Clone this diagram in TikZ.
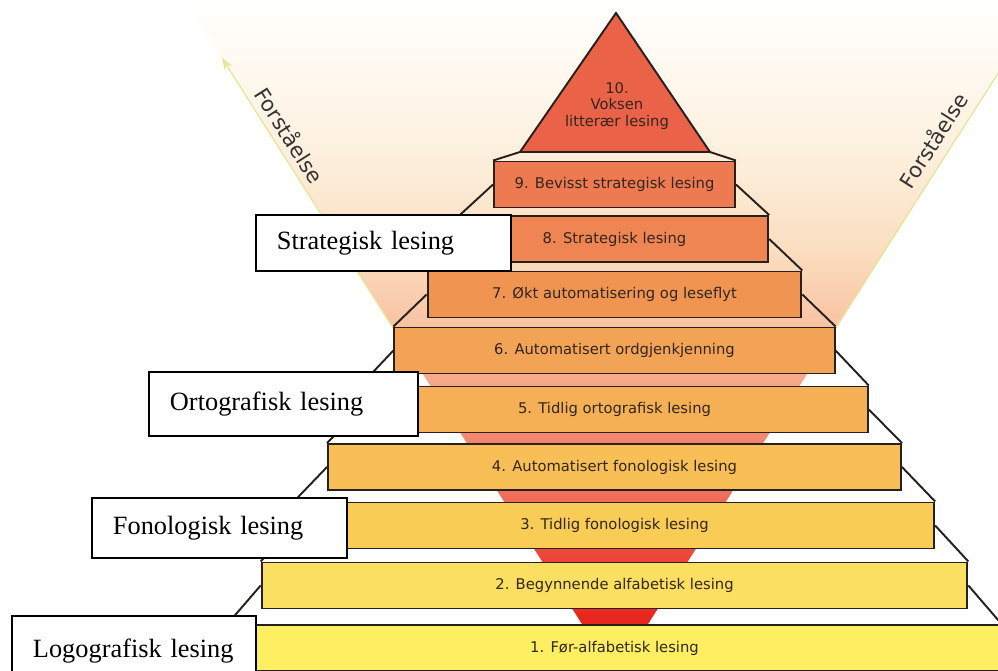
\documentclass[tikz,border=0pt]{standalone}
\usepackage{fontspec}
\usetikzlibrary{arrows.meta}
\newfontfamily\barfont{DejaVu Sans}
\newfontfamily\boxfont{Liberation Serif}
\definecolor{bar1}{RGB}{253,238,98}
\definecolor{bar2}{RGB}{251,223,96}
\definecolor{bar3}{RGB}{249,204,85}
\definecolor{bar4}{RGB}{247,191,85}
\definecolor{bar5}{RGB}{245,176,85}
\definecolor{bar6}{RGB}{242,163,85}
\definecolor{bar7}{RGB}{240,148,82}
\definecolor{bar8}{RGB}{238,133,82}
\definecolor{bar9}{RGB}{237,122,80}
\definecolor{toptri}{RGB}{234,98,72}
\definecolor{barline}{RGB}{40,32,28}
\definecolor{bartext}{RGB}{50,38,30}
\definecolor{coneline}{RGB}{228,230,150}
\definecolor{cone0}{RGB}{228,30,20}
\definecolor{cone1}{RGB}{232,40,30}
\definecolor{cone2}{RGB}{238,70,58}
\definecolor{cone3}{RGB}{241,110,90}
\definecolor{cone4}{RGB}{244,135,112}
\definecolor{cone5}{RGB}{246,168,138}
\definecolor{cone6}{RGB}{248,196,164}
\definecolor{cone7}{RGB}{251,222,192}
\definecolor{cone8}{RGB}{253,240,222}
\definecolor{cone9}{RGB}{255,251,244}
\pgfdeclareverticalshading{cone}{100bp}{color(0bp)=(cone0); color(25bp)=(cone0);
  color(29.5bp)=(cone1); color(34bp)=(cone2); color(38.3bp)=(cone3);
  color(42.6bp)=(cone4); color(46.9bp)=(cone5); color(51.2bp)=(cone6);
  color(56.5bp)=(cone7); color(63.9bp)=(cone8); color(71.3bp)=(cone9);
  color(75bp)=(white); color(100bp)=(white)}

\begin{document}
\begin{tikzpicture}[x=0.02cm, y=-0.02cm,
    stepbar/.style={draw=barline, line width=1.1pt, minimum height=0.92cm, inner sep=0pt,
      font=\barfont\fontsize{8.4}{10}\selectfont, text=bartext},
    stair/.style={draw=barline, line width=1.1pt},
    lbl/.style={draw, line width=1.1pt, fill=white, anchor=north west, align=left,
      inner xsep=0.42cm, font=\boxfont\fontsize{15}{18}\selectfont},
    coneedge/.style={draw=coneline, line width=0.7pt},
    side/.style={font=\barfont\fontsize{12}{14}\selectfont, text=black!80}]
    \useasboundingbox (0,0) rectangle (998,671);
    \clip (0,0) rectangle (998,671);

    \coordinate (vl) at (185,0);
    \coordinate (vr) at (1045,0);
    \coordinate (vb) at (615,676);
    \shade[shading=cone] (vl) -- (vr) -- (vb) -- cycle;
    \coordinate (edgeL) at (393,328);
    \coordinate (arrL) at (222,58);
    \coordinate (edgeR) at (835,328);
    \draw[coneedge, -{Stealth[length=7pt, width=5pt]}] (edgeL) -- (arrL);
    \draw[coneedge] (edgeR) -- (vr);

    \foreach \i/\y/\txt in {9/184.5/{9. Bevisst strategisk lesing}, 8/239/{8. Strategisk lesing},
        7/294.5/{7. Økt automatisering og leseflyt}, 6/350.5/{6. Automatisert ordgjenkjenning},
        5/409.5/{5. Tidlig ortografisk lesing}, 4/467/{4. Automatisert fonologisk lesing},
        3/525.5/{3. Tidlig fonologisk lesing}, 2/585.5/{2. Begynnende alfabetisk lesing},
        1/648/{1. Før-alfabetisk lesing}}
    {
      \pgfmathsetmacro\w{241+66.4*(9-\i)}
      \node[stepbar, fill=bar\i, minimum width=\w*0.02cm] (b\i) at (614.5,\y) {\txt};
    }

    \foreach \i [evaluate=\i as \j using int(\i-1)] in {9,...,2}
    {
      \draw[stair] (b\i.east) -- (b\j.north east);
      \draw[stair] (b\i.west) -- (b\j.north west);
    }

    \coordinate (apex) at (616,13);
    \coordinate (tl) at (520,152);
    \coordinate (tr) at (710,152);
    \draw[stair] (tr) -- (b9.north east);
    \draw[stair] (tl) -- (b9.north west);
    \draw[stair, fill=toptri, line join=miter] (apex) -- (tr) -- (tl) -- cycle;
    \node[font=\barfont\fontsize{8.4}{9.4}\selectfont, text=bartext, align=center] (b10) at (617,106)
      {10.\\Voksen\\litterær lesing};

    \node[side, rotate=-57.5] (forL) at (290,135) {Forståelse};
    \node[side, rotate=57.5] (forR) at (933,140) {Forståelse};

    \node[lbl, text width=4.26cm, minimum height=1.12cm] (strat) at (255,214) {Strategisk lesing};
    \node[lbl, text width=4.54cm, minimum height=1.28cm] (orto) at (148,371) {Ortografisk lesing};
    \node[lbl, text width=4.26cm, minimum height=1.2cm] (fono) at (91,497) {Fonologisk lesing};
    \node[lbl, text width=4.04cm, minimum height=1.4cm] (logo) at (11,615) {Logografisk lesing};
\end{tikzpicture}
\end{document}
